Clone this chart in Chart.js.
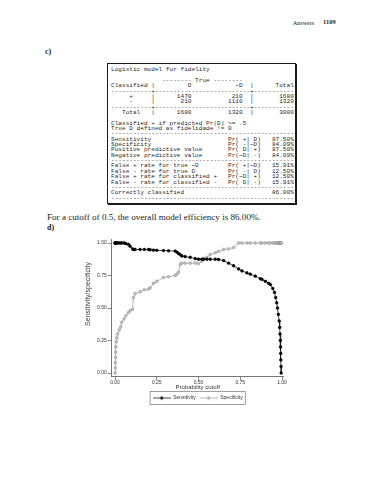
<!DOCTYPE html>
<html><head><meta charset="utf-8">
<script src="https://cdn.jsdelivr.net/npm/chart.js@4"></script>
<style>
html,body{margin:0;padding:0;background:#fff;width:375px;height:480px;overflow:hidden;position:relative}
.t{position:absolute;white-space:pre;color:#222;line-height:1;font-family:"Liberation Serif","Times New Roman",serif}
#box{position:absolute;left:107px;top:63px;width:187px;height:139px;border:1.5px solid #1a1a1a;box-shadow:1px 1px 0 #1a1a1a}
#tbl{position:absolute;left:111px;top:67.3px;font-family:"Liberation Mono",monospace;font-size:6.1px;line-height:5.35px;white-space:pre;color:#2a2a2a}
#c{position:absolute;left:0;top:230px}
#ytitle{position:absolute;left:54px;top:290px;width:68px;height:8px;text-align:center;transform:rotate(-90deg);transform-origin:34px 4px;font-family:"Liberation Sans",Arial,sans-serif;font-size:7px;line-height:8px;color:#444;white-space:pre}
</style></head><body>
<div class="t" style="left:293px;top:19.5px;font-size:6px">Answers</div>
<div class="t" style="left:323px;top:19.3px;font-size:6.5px;font-weight:bold">1109</div>
<div class="t" style="left:45px;top:48px;font-size:8px;font-weight:bold">c)</div>
<div id="box"></div>
<div id="tbl">Logistic model for fidelity

              -------- True --------
Classified |         D            ~D  |      Total
-----------+--------------------------+-----------
     +     |      1470           210  |       1680
     -     |       210          1110  |       1320
-----------+--------------------------+-----------
   Total   |      1680          1320  |       3000

Classified + if predicted Pr(D) &gt;= .5
True D defined as fidelidade != 0
--------------------------------------------------
Sensitivity                     Pr( +| D)   87.50%
Specificity                     Pr( -|~D)   84.09%
Positive predictive value       Pr( D| +)   87.50%
Negative predictive value       Pr(~D| -)   84.09%
--------------------------------------------------
False + rate for true ~D        Pr( +|~D)   15.91%
False - rate for true D         Pr( -| D)   12.50%
False + rate for classified +   Pr(~D| +)   12.50%
False - rate for classified -   Pr( D| -)   15.91%
--------------------------------------------------
Correctly classified                        86.00%
--------------------------------------------------</div>
<div class="t" style="left:47px;top:212.7px;font-size:9.1px">For a cutoff of 0.5, the overall model efficiency is 86.00%.</div>
<div class="t" style="left:47px;top:224px;font-size:8px;font-weight:bold">d)</div>
<canvas id="c" width="375" height="184"></canvas>
<div id="ytitle">Sensitivity/specificity</div>
<script>
const cutoffs = [0.000,0.001,0.002,0.003,0.004,0.005,0.007,0.010,0.015,0.025,0.034,0.040,0.054,0.065,0.080,0.090,0.105,0.110,0.120,0.150,0.175,0.200,0.210,0.230,0.250,0.290,0.320,0.360,0.370,0.380,0.390,0.400,0.420,0.450,0.480,0.500,0.520,0.530,0.550,0.570,0.600,0.620,0.650,0.680,0.710,0.740,0.760,0.790,0.810,0.840,0.870,0.880,0.900,0.920,0.930,0.945,0.955,0.962,0.968,0.973,0.978,0.983,0.986,0.988,0.990,0.991,0.992,0.993,0.994,0.995];
const sensitivity = [1,1,1,1,1,1,1,1,1,1,1,1,1,0.995,0.99,0.975,0.955,0.95,0.95,0.95,0.95,0.95,0.948,0.945,0.944,0.942,0.94,0.938,0.93,0.92,0.91,0.90,0.895,0.89,0.88,0.875,0.875,0.875,0.875,0.875,0.875,0.873,0.865,0.845,0.825,0.80,0.785,0.77,0.76,0.745,0.725,0.72,0.705,0.69,0.68,0.65,0.62,0.58,0.54,0.50,0.45,0.40,0.35,0.30,0.25,0.20,0.15,0.10,0.05,0.00];
const specificity = [0,0.04,0.08,0.12,0.16,0.20,0.24,0.27,0.30,0.33,0.355,0.39,0.415,0.44,0.465,0.48,0.49,0.58,0.61,0.625,0.64,0.645,0.655,0.69,0.705,0.735,0.74,0.75,0.76,0.775,0.835,0.845,0.845,0.845,0.845,0.841,0.86,0.88,0.89,0.91,0.925,0.935,0.95,0.955,0.965,1,1,1,1,1,1,1,1,1,1,1,1,1,1,1,1,1,1,1,1,1,1,1,1,1];
const xTicks = [0, 0.25, 0.5, 0.75, 1];
const yTicks = [0, 0.25, 0.5, 0.75, 1];
const seriesNames = ['Sensitivity', 'Specificity'];
const xTitle = 'Probability cutoff';

const SENS_LINE = '#1a1a1a', SENS_PT = '#000';
const SPEC_LINE = '#a3a3a3', SPEC_PT = '#c4c4c4';
const FONT = '"Liberation Sans", Arial, sans-serif';

function sample(line, fill, stroke) {
  const c = document.createElement('canvas');
  c.width = 18; c.height = 5;
  const g = c.getContext('2d');
  g.strokeStyle = line; g.lineWidth = 0.8;
  g.beginPath(); g.moveTo(0, 2.5); g.lineTo(18, 2.5); g.stroke();
  g.fillStyle = fill; g.strokeStyle = stroke; g.lineWidth = 0.6;
  g.beginPath(); g.arc(9, 2.5, 1.3, 0, Math.PI * 2); g.fill(); g.stroke();
  return c;
}
const samples = [sample(SENS_LINE, SENS_PT, SENS_PT), sample(SPEC_LINE, SPEC_PT, '#8a8a8a')];

const legendBorder = {
  id: 'legendBorder',
  afterDraw(chart) {
    const hb = chart.legend && chart.legend.legendHitBoxes;
    if (!hb || !hb.length) return;
    let l = Infinity, r = -Infinity, t = Infinity, b = -Infinity;
    hb.forEach(h => { l = Math.min(l, h.left); r = Math.max(r, h.left + h.width); t = Math.min(t, h.top); b = Math.max(b, h.top + h.height); });
    const ctx = chart.ctx;
    ctx.save();
    ctx.strokeStyle = '#777'; ctx.lineWidth = 0.7;
    ctx.strokeRect(l - 2.5, t - 4, (r - l) + 5, (b - t) + 8);
    ctx.restore();
  }
};

new Chart(document.getElementById('c'), {
  type: 'line',
  data: {
    datasets: [
      { label: seriesNames[0], data: cutoffs.map((c, i) => ({x: c, y: sensitivity[i]})),
        borderColor: SENS_LINE, borderWidth: 0.8, pointRadius: 1.4, pointBackgroundColor: SENS_PT,
        pointBorderColor: SENS_PT, pointBorderWidth: 0.5, tension: 0, fill: false },
      { label: seriesNames[1], data: cutoffs.map((c, i) => ({x: c, y: specificity[i]})),
        borderColor: SPEC_LINE, borderWidth: 0.8, pointRadius: 1.4, pointBackgroundColor: SPEC_PT,
        pointBorderColor: '#8a8a8a', pointBorderWidth: 0.5, tension: 0, fill: false }
    ]
  },
  options: {
    responsive: false, animation: false, devicePixelRatio: 1,
    layout: { padding: { left: 84, right: 91.3, top: 9.1, bottom: 3.5 } },
    plugins: {
      tooltip: { enabled: false },
      legend: {
        position: 'bottom', fullSize: false,
        labels: {
          usePointStyle: true, pointStyleWidth: 18, padding: 4.1, color: '#333',
          font: { family: FONT, size: 5 },
          generateLabels: (chart) => chart.data.datasets.map((d, i) => ({
            text: d.label, pointStyle: samples[i], fillStyle: 'transparent', strokeStyle: 'transparent',
            lineWidth: 0, hidden: false, datasetIndex: i, fontColor: '#333'
          }))
        }
      }
    },
    scales: {
      x: {
        type: 'linear', min: -0.02, max: 1.01,
        afterBuildTicks: s => { s.ticks = xTicks.map(v => ({ value: v })); },
        afterFit: s => { s.height = 14.5; },
        grid: { drawOnChartArea: false, drawTicks: true, tickLength: 3, tickColor: '#555', tickWidth: 0.7 },
        border: { display: true, color: '#555', width: 0.8 },
        ticks: { font: { family: FONT, size: 5 }, color: '#333', padding: 0, maxRotation: 0, autoSkip: false,
          callback: v => Number(v).toFixed(2) },
        title: { display: true, text: xTitle, font: { family: FONT, size: 6 }, color: '#333', padding: { top: 0, bottom: 0 } }
      },
      y: {
        type: 'linear', min: -0.03, max: 1.03,
        afterBuildTicks: s => { s.ticks = yTicks.map(v => ({ value: v })); },
        afterFit: s => { s.width = 27.7; },
        grid: { drawOnChartArea: false, drawTicks: true, tickLength: 4, tickColor: '#555', tickWidth: 0.7 },
        border: { display: true, color: '#555', width: 0.8 },
        ticks: { font: { family: FONT, size: 5 }, color: '#333', padding: 1, autoSkip: false,
          callback: v => Number(v).toFixed(2) },
        title: { display: false }
      }
    }
  },
  plugins: [legendBorder]
});
</script>
</body></html>
